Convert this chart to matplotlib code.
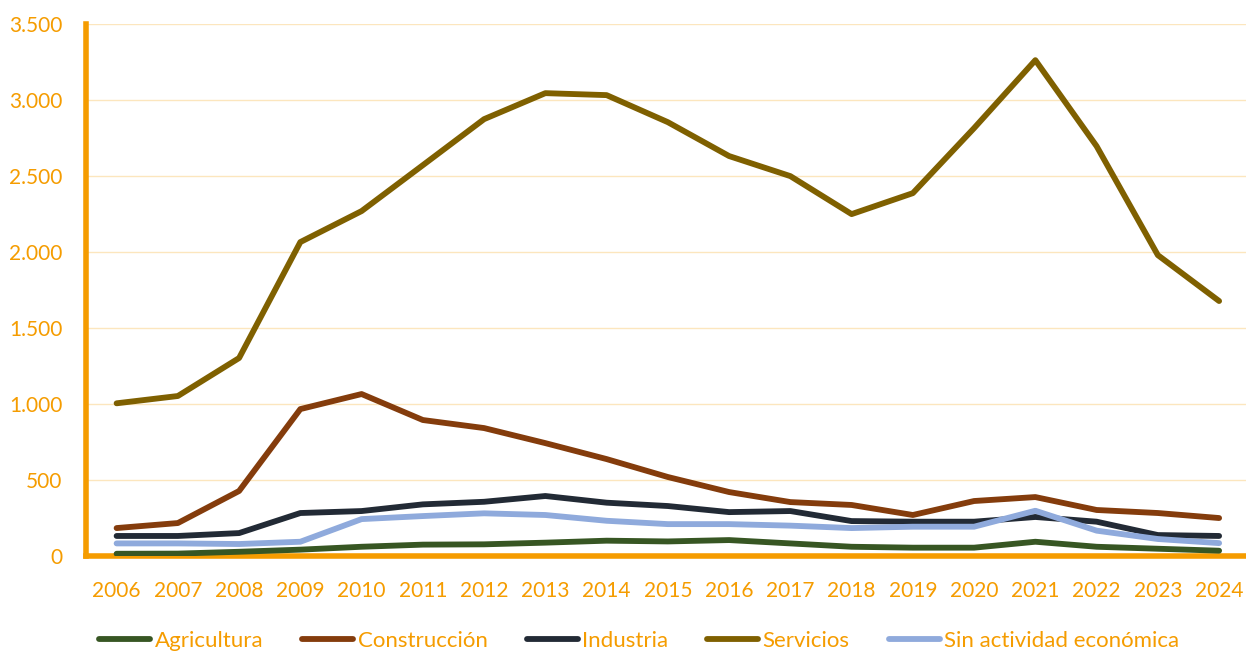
import matplotlib
matplotlib.use("Agg")
from matplotlib import pyplot as plt
from matplotlib.ticker import FuncFormatter

# Data
years = list(range(2006, 2025))
agricultura = [15, 16, 28, 42, 61, 75, 77, 88, 101, 96, 105, 83, 61, 55, 55, 94, 61, 48, 35]
construccion = [184, 217, 428, 967, 1066, 895, 842, 743, 638, 520, 421, 355, 336, 270, 362, 388, 303, 283, 250]
industria = [132, 132, 151, 283, 296, 340, 357, 395, 351, 329, 289, 296, 230, 226, 226, 257, 226, 138, 132]
servicios = [1005, 1053, 1303, 2066, 2270, 2572, 2875, 3046, 3033, 2855, 2632, 2500, 2250, 2388, 2816, 3263, 2697, 1980, 1678]
sin_actividad = [83, 83, 79, 94, 243, 263, 281, 270, 232, 210, 210, 200, 184, 193, 193, 298, 167, 112, 85]

series = [
    ("Agricultura", agricultura, "#375623"),
    ("Construcción", construccion, "#843C0C"),
    ("Industria", industria, "#222A35"),
    ("Servicios", servicios, "#7F6000"),
    ("Sin actividad económica", sin_actividad, "#8FAADC"),
]

orange = "#F59C00"
plt.rcParams["font.family"] = ["Lato", "DejaVu Sans"]

fig = plt.figure(figsize=(12.46, 6.53), dpi=100)
ax = fig.add_axes([0.069, 0.1485, 0.934, 0.8145])

for name, vals, color in series:
    ax.plot(years, vals, color=color, lw=4.2, label=name,
            solid_capstyle="round", solid_joinstyle="round", zorder=3)

ax.set_xlim(2005.5, 2024.5)
ax.set_ylim(0, 3500)
ax.set_yticks(range(0, 3501, 500))
ax.set_xticks(years)
ax.yaxis.set_major_formatter(FuncFormatter(lambda v, p: f"{int(v):,}".replace(",", ".")))

ax.grid(axis="y", color="#FCE6BE", lw=1, zorder=0)
ax.set_axisbelow(True)

for s in ["top", "right"]:
    ax.spines[s].set_visible(False)
for s in ["left", "bottom"]:
    ax.spines[s].set_color(orange)
    ax.spines[s].set_linewidth(4)
ax.spines["bottom"].set_zorder(2)

ax.tick_params(axis="both", length=0, labelsize=15, labelcolor=orange)
ax.tick_params(axis="y", pad=17)
ax.tick_params(axis="x", pad=18)

fig.legend(loc="center", bbox_to_anchor=(0.513, 1 - 641 / 653), ncol=5, frameon=False,
           fontsize=16, handlelength=2.3, handletextpad=0.2, columnspacing=1.75,
           labelcolor=orange)

plt.savefig("out.png", dpi=100)
